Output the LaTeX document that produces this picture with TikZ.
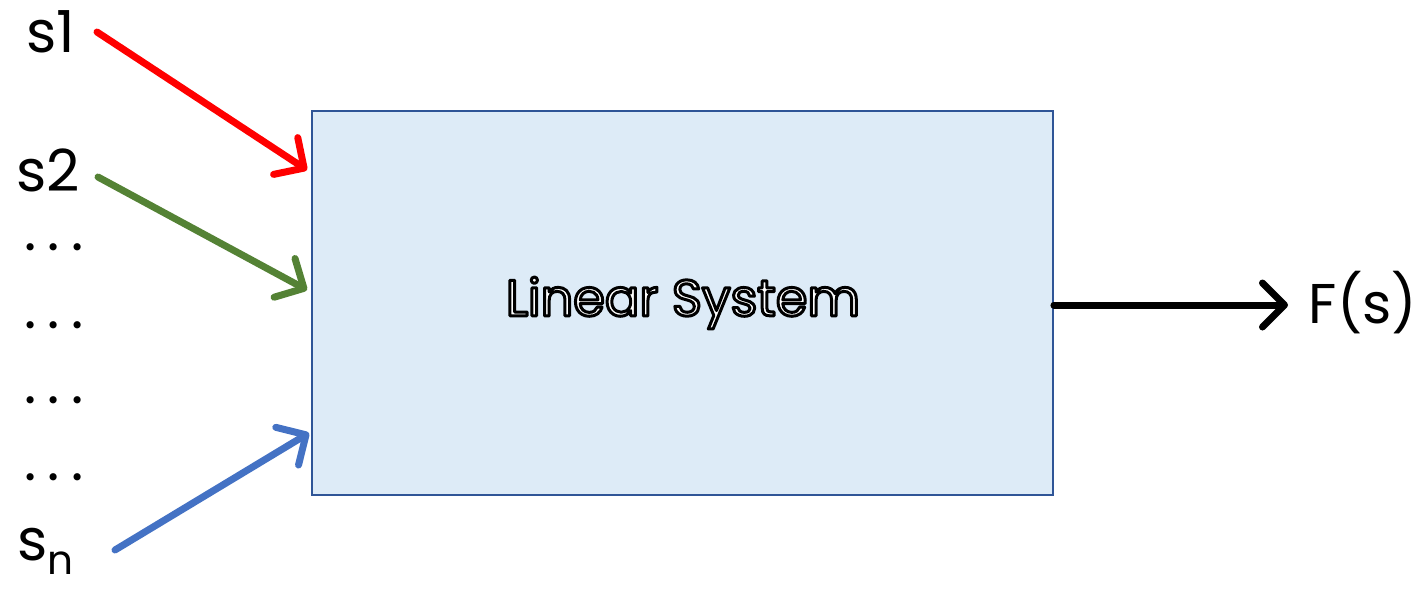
\documentclass[tikz,border=0pt]{standalone}
\usepackage{fontspec}
\setmainfont{Poppins}
\usetikzlibrary{arrows.meta}
\definecolor{boxfill}{HTML}{DDEBF7}
\definecolor{boxline}{HTML}{2F5597}
\definecolor{sigred}{HTML}{FF0000}
\definecolor{siggreen}{HTML}{548235}
\definecolor{sigblue}{HTML}{4472C4}
% white glyphs with a black outline (fill + stroke text rendering)
\newcommand{\outlinetext}[1]{{\color{white}\special{pdf:code q 0 G 3 w 1 j 2 Tr}#1\special{pdf:code 0 Tr Q}}}
\tikzset{
  label/.style={font=\fontsize{58}{66}\selectfont, inner sep=0pt, anchor=center},
  dotrow/.style={font=\fontsize{58}{66}\selectfont, inner sep=0pt, anchor=base},
  sig/.style={line width=7pt, line cap=round,
    -{Straight Barb[length=22pt, width=44pt, line width=7pt, round]}},
  sysbox/.style={draw=boxline, fill=boxfill, line width=1.8pt,
    minimum width=741pt, minimum height=384pt, inner sep=0pt}
}
\newcommand{\threedots}{.\hspace{11pt}.\hspace{11pt}.}
\begin{document}
\begin{tikzpicture}[x=1pt, y=-1pt]
  \useasboundingbox (0,0) rectangle (1421,590);
  % system block
  \node[sysbox] (sys) at (682.5,303) {};
  \node[font=\fontsize{51}{60}\selectfont, inner sep=0pt] (title) at (683,303)
    {\outlinetext{Linear System}};
  % inputs
  \node[label] (s1) at (51,32) {s1};
  \node[label] (s2) at (48,170) {s2};
  \node[dotrow] (d1) at (54,250) {\threedots};
  \node[dotrow] (d2) at (54,328) {\threedots};
  \node[dotrow] (d3) at (54,403) {\threedots};
  \node[dotrow] (d4) at (54,480) {\threedots};
  \node[label] (sn) at (46,551) {s\textsubscript{n}};
  \node[label, font=\fontsize{56}{64}\selectfont] (out) at (1363,303) {F(s)};
  % free ends of the connectors
  \coordinate (s1a) at (97,32);
  \coordinate (s1b) at (307,170);
  \coordinate (s2a) at (98,177);
  \coordinate (s2b) at (307,290);
  \coordinate (sna) at (115,550);
  \coordinate (snb) at (309,433);
  \coordinate (outend) at (1288,305);
  \draw[sig, sigred] (s1a) -- (s1b);
  \draw[sig, siggreen] (s2a) -- (s2b);
  \draw[sig, sigblue] (sna) -- (snb);
  \draw[sig, black] (sys.east |- outend) -- (outend);
\end{tikzpicture}
\end{document}
